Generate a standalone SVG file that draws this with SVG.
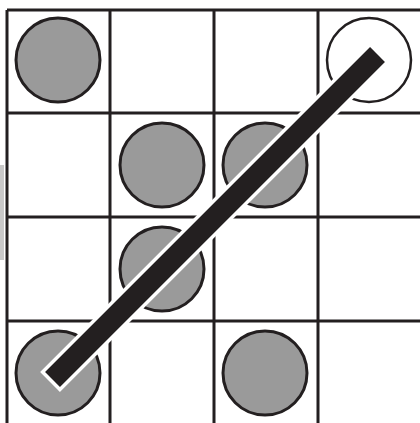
<svg xmlns="http://www.w3.org/2000/svg" width="420" height="423" viewBox="0 0 420 423">
<style>
.grid{stroke:#231f20;stroke-width:3;fill:none}
.dot{fill:#9a9a9a;stroke:#231f20;stroke-width:3}
.hollow{fill:#fff;stroke:#231f20;stroke-width:2.5}
</style>
<rect width="420" height="423" fill="#fff"/>
<rect x="0" y="165" width="4" height="95" fill="#c8c8c8"/>
<g id="grid" class="grid">
<path d="M7,10 V423 M110,10 V423 M214,10 V423 M318,10 V423 M7,10 H420 M7,113 H420 M7,217 H420 M7,321 H420"/>
</g>
<g id="c00"><circle class="dot" cx="58" cy="60" r="42"/></g>
<g id="c30"><circle class="hollow" cx="369" cy="60" r="42"/></g>
<g id="c11"><circle class="dot" cx="162" cy="165" r="42"/></g>
<g id="c21"><circle class="dot" cx="265" cy="165" r="42"/></g>
<g id="c12"><circle class="dot" cx="162" cy="269" r="42"/></g>
<g id="c03"><circle class="dot" cx="58" cy="373" r="42"/></g>
<g id="c23"><circle class="dot" cx="265" cy="373" r="42"/></g>
<g id="connectors">
<line x1="50" y1="382" x2="380" y2="52" stroke="#fff" stroke-width="28"/>
<line x1="52.5" y1="379.5" x2="377.5" y2="54.5" stroke="#231f20" stroke-width="21"/>
</g>
</svg>
